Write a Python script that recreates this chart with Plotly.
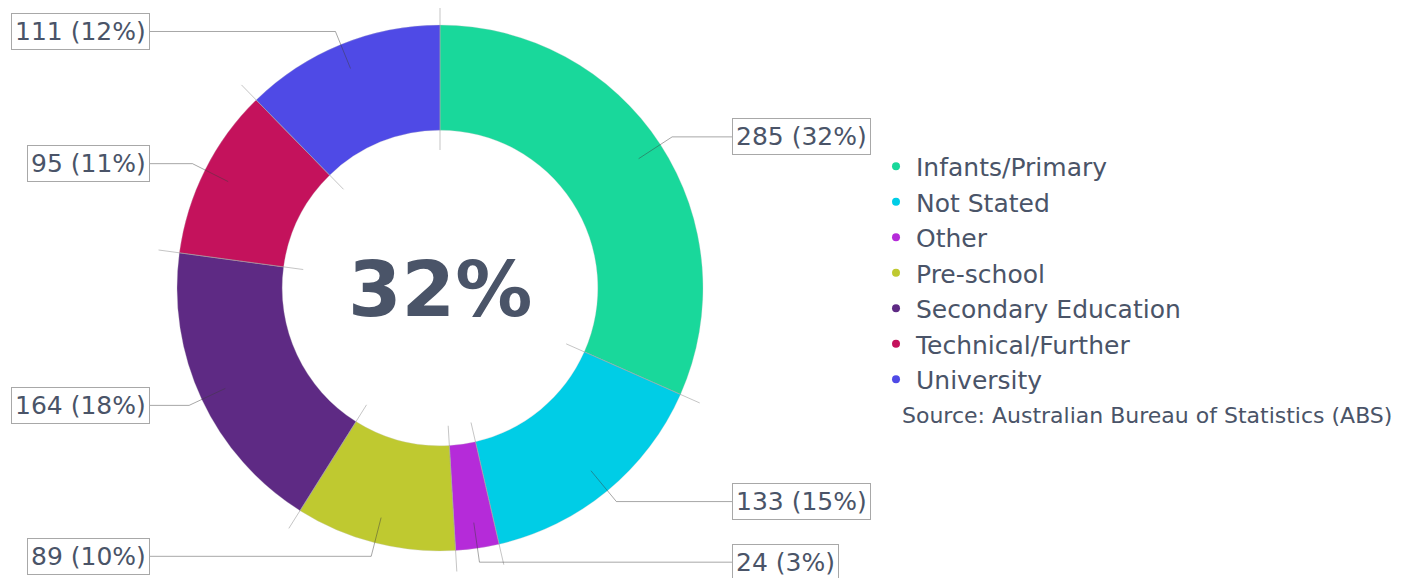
import math
import plotly.graph_objects as go

# ---- data ----
categories = ["Infants/Primary", "Not Stated", "Other", "Pre-school",
              "Secondary Education", "Technical/Further", "University"]
values = [285, 133, 24, 89, 164, 95, 111]
colors = ["#19D89B", "#00CDE6", "#B52BD9", "#BFC930", "#5E2A84", "#C4125C", "#4F4AE6"]
center_label = "32%"
source_text = "Source: Australian Bureau of Statistics (ABS)"

# ---- geometry / style ----
W, H = 1404, 578
OFF = 8  # page body margin
CX, CY = 440, 288
R_OUT = 263
HOLE = 0.6
TEXT = "#4A5468"
FONT = "DejaVu Sans"


def fx(x):
    return (x - OFF) / W


def fy(y):
    return 1 - (y - OFF) / H


def polar(r, frac):
    th = 2 * math.pi * frac
    return CX + r * math.sin(th), CY - r * math.cos(th)


fig = go.Figure()
fig.add_trace(go.Pie(
    labels=categories, values=values, sort=False, direction="clockwise", rotation=0,
    hole=HOLE, textinfo="none", showlegend=False,
    marker=dict(colors=colors, line=dict(color="rgba(200,200,200,0.6)", width=0.5)),
    hovertemplate="%{label}: %{value} (%{percent})<extra></extra>",
    domain=dict(x=[fx(CX - R_OUT), fx(CX + R_OUT)], y=[fy(CY + R_OUT), fy(CY - R_OUT)]),
))

for cat, col in zip(categories, colors):
    fig.add_trace(go.Scatter(x=[None], y=[None], mode="markers", name=cat,
                             marker=dict(color=col, size=8), hoverinfo="skip"))

total = sum(values)
shapes = []
annotations = []

# boundary radial lines
cum = 0
for v in values:
    f = cum / total
    x1, y1 = polar(138, f)
    x2, y2 = polar(284, f)
    shapes.append(dict(type="line", xref="paper", yref="paper",
                       x0=fx(x1), y0=fy(y1), x1=fx(x2), y1=fy(y2),
                       line=dict(color="rgba(150,150,150,0.55)", width=1)))
    cum += v

# leader lines + boxed labels
cum = 0
for v in values:
    mid = (cum + v / 2) / total
    cum += v
    sx, sy = polar(237, mid)
    ex, ey = polar(277, mid)
    right = ex >= CX
    bx = CX + 292 if right else CX - 290
    lc = "rgba(60,60,60,0.45)"
    shapes.append(dict(type="line", xref="paper", yref="paper",
                       x0=fx(sx), y0=fy(sy), x1=fx(ex), y1=fy(ey), line=dict(color=lc, width=1)))
    shapes.append(dict(type="line", xref="paper", yref="paper",
                       x0=fx(ex), y0=fy(ey), x1=fx(bx), y1=fy(ey), line=dict(color=lc, width=1)))
    pct = int(v / total * 100 + 0.5)
    annotations.append(dict(
        text=f"{v} ({pct}%)", xref="paper", yref="paper", x=fx(bx), y=fy(ey),
        xanchor="left" if right else "right", yanchor="middle", showarrow=False,
        font=dict(family=FONT, size=25, color=TEXT),
        bordercolor="#A8A8A8", borderwidth=1, borderpad=3, bgcolor="white"))

annotations.append(dict(text=f"<b>{center_label}</b>", xref="paper", yref="paper",
                        x=fx(CX), y=fy(CY + 2), xanchor="center", yanchor="middle",
                        showarrow=False, font=dict(family=FONT, size=77, color=TEXT)))
annotations.append(dict(text=source_text, xref="paper", yref="paper",
                        x=fx(900), y=fy(415), xanchor="left", yanchor="middle",
                        showarrow=False, font=dict(family=FONT, size=22, color=TEXT)))

fig.update_layout(
    width=W, height=H, margin=dict(l=0, r=0, t=0, b=0),
    paper_bgcolor="white", plot_bgcolor="white",
    xaxis=dict(visible=False), yaxis=dict(visible=False),
    showlegend=True,
    legend=dict(x=fx(876), xanchor="left", y=fy(273), yanchor="middle",
                font=dict(family=FONT, size=25, color=TEXT), bgcolor="rgba(0,0,0,0)"),
    shapes=shapes, annotations=annotations,
)

fig.write_html("out.html")
